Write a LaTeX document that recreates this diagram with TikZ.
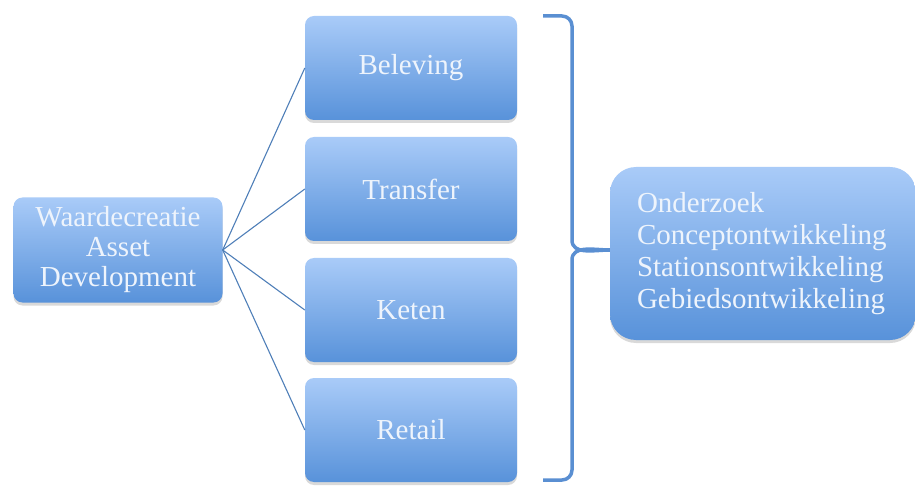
\documentclass[tikz,border=0pt]{standalone}
\usepackage{fontspec}
\setmainfont{Liberation Serif}
\usetikzlibrary{shadows,positioning}
\definecolor{boxtop}{HTML}{A9CBF8}
\definecolor{boxbot}{HTML}{5892DA}
\definecolor{linkblue}{HTML}{4F7FB8}
\definecolor{bracecol}{HTML}{5A8FD2}
\definecolor{txt}{HTML}{EEF4FC}
\tikzset{
  box/.style={rounded corners=9pt, top color=boxtop, bottom color=boxbot,
    draw=none, text=txt, font=\fontsize{29}{30}\selectfont,
    drop shadow={shadow xshift=0pt, shadow yshift=-3pt, opacity=0.25, fill=black!60},
    inner sep=0pt, align=center},
  midbox/.style={box, minimum width=212pt, minimum height=104pt},
  link/.style={draw=linkblue, line width=1.1pt},
}
\begin{document}
\begin{tikzpicture}[x=1pt,y=-1pt]
\useasboundingbox (0,0) rectangle (915,486);
\node[box, minimum width=209pt, minimum height=105pt] (wa) at (118,250)
  {Waardecreatie\\Asset\\Development};
\node[midbox] (be) at (411,68) {Beleving};
\node[midbox] (tr) at (411,189) {Transfer};
\node[midbox] (ke) at (411,310) {Keten};
\node[midbox] (re) at (411,430) {Retail};
\node[box, rounded corners=26pt, minimum width=306pt, minimum height=173pt,
  align=left, font=\fontsize{29}{32}\selectfont, text width=252pt] (on) at (763,253.5)
  {Onderzoek\\Conceptontwikkeling\\Stationsontwikkeling\\Gebiedsontwikkeling};
\foreach \n in {be,tr,ke,re} \draw[link] (wa.east) -- (\n.west);
\coordinate (tip) at (on.west);
\draw[draw=bracecol, line width=3.5pt, line join=round]
  (543,16) -- (562,16) to[out=0,in=90] (572,26) -- (572,240)
  to[out=270,in=180] (tip |- 0,250) ;
\draw[draw=bracecol, line width=3.5pt, line join=round]
  (tip |- 0,250) to[out=180,in=90] (572,260) -- (572,470)
  to[out=270,in=0] (562,480) -- (543,480);
\end{tikzpicture}
\end{document}
